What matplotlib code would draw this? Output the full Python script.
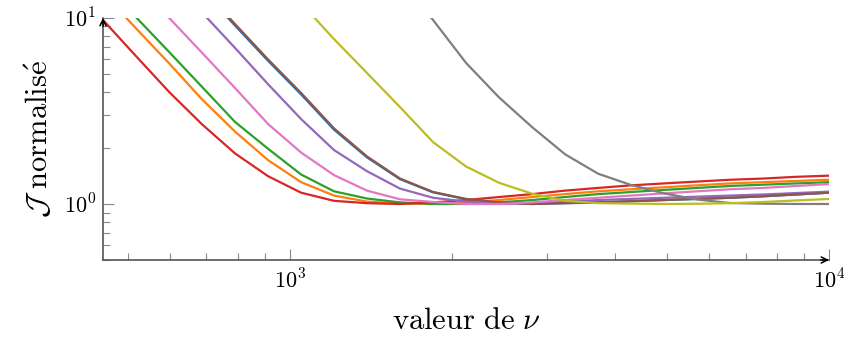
"""Normalised J versus nu, log-log, one curve per setting."""

import numpy as np
import matplotlib
matplotlib.use('Agg')
import matplotlib.pyplot as plt
from matplotlib import ticker

plt.rcParams['mathtext.fontset'] = 'cm'
plt.rcParams['font.family'] = ['DejaVu Serif']

# sample points of nu
nu = [450, 518, 597, 687, 791, 911, 1049, 1207, 1390, 1600, 1843, 2122,
      2443, 2813, 3239, 3729, 4294, 4944, 5693, 6555, 7547, 8690, 10000]

# normalised J, one list per curve (values above 10 are clipped in the plot)
j_blue = [58, 37, 22.5, 14.2, 9.1, 5.88, 3.88, 2.51, 1.78, 1.36, 1.155, 1.06,
          1.02, 1.0, 1.01, 1.02, 1.035, 1.05, 1.065, 1.08, 1.10, 1.125, 1.15]
j_orange = [13.6, 8.8, 5.7, 3.65, 2.45, 1.72, 1.31, 1.11, 1.03, 1.006, 1.0, 1.02,
            1.05, 1.09, 1.13, 1.17, 1.20, 1.23, 1.26, 1.29, 1.31, 1.33, 1.35]
j_green = [15.6, 10.1, 6.56, 4.26, 2.76, 1.98, 1.44, 1.17, 1.07, 1.02, 1.0, 1.0,
           1.02, 1.05, 1.09, 1.13, 1.16, 1.19, 1.22, 1.25, 1.27, 1.29, 1.31]
j_red = [9.75, 6.24, 4.0, 2.68, 1.87, 1.41, 1.15, 1.04, 1.01, 1.0, 1.02, 1.05,
         1.09, 1.13, 1.18, 1.22, 1.26, 1.29, 1.32, 1.35, 1.37, 1.40, 1.42]
j_purple = [42, 26, 17, 10.7, 6.9, 4.4, 2.86, 1.95, 1.5, 1.21, 1.08, 1.03,
            1.0, 1.01, 1.03, 1.05, 1.065, 1.08, 1.095, 1.11, 1.125, 1.145, 1.165]
j_brown = [60, 38, 23, 14.5, 9.27, 5.98, 3.95, 2.55, 1.8, 1.37, 1.16, 1.065,
           1.02, 1.0, 1.01, 1.02, 1.035, 1.05, 1.065, 1.08, 1.10, 1.125, 1.15]
j_pink = [23.7, 15.4, 10.0, 6.5, 4.2, 2.69, 1.89, 1.43, 1.18, 1.06, 1.025, 1.0,
          1.0, 1.02, 1.05, 1.08, 1.11, 1.14, 1.17, 1.20, 1.22, 1.25, 1.28]
j_gray = [1470, 890, 540, 330, 200, 120, 74, 45, 27, 16.5, 9.75, 5.73,
          3.74, 2.59, 1.85, 1.455, 1.265, 1.14, 1.057, 1.012, 1.004, 1.0, 1.0]
j_olive = [170, 110, 70, 45, 29, 18.7, 12.0, 7.7, 5.06, 3.32, 2.15, 1.59,
           1.30, 1.136, 1.04, 1.01, 1.005, 1.0, 1.003, 1.01, 1.025, 1.045, 1.064]

series = [
    (j_blue, '#1f77b4'),
    (j_orange, '#ff7f0e'),
    (j_green, '#2ca02c'),
    (j_red, '#d62728'),
    (j_purple, '#9467bd'),
    (j_brown, '#8c564b'),
    (j_pink, '#e377c2'),
    (j_gray, '#7f7f7f'),
    (j_olive, '#bcbd22'),
]

fig = plt.figure(figsize=(8.45, 3.38), dpi=100)
ax = fig.add_axes([0.1219, 0.2308, 0.8592, 0.716])

for vals, color in series:
    ax.plot(nu, vals, color=color, linewidth=1.6)

ax.set_xscale('log')
ax.set_yscale('log')
ax.set_xlim(450, 10000)
ax.set_ylim(0.5, 10)

# axis lines: left and bottom only, with arrow heads
for side in ('top', 'right'):
    ax.spines[side].set_visible(False)
for side in ('left', 'bottom'):
    ax.spines[side].set_color('#555555')
    ax.spines[side].set_linewidth(1.2)

arrow = dict(arrowstyle='->', color='black', lw=1.1, shrinkA=0, shrinkB=0,
             mutation_scale=11)
ax.annotate('', xy=(1, 0), xycoords='axes fraction', xytext=(-6, 0),
            textcoords='offset points', arrowprops=arrow)
ax.annotate('', xy=(0, 1), xycoords='axes fraction', xytext=(0, -6),
            textcoords='offset points', arrowprops=arrow)

log_fmt = ticker.FuncFormatter(lambda v, p: r'$10^{%d}$' % round(np.log10(v)))
for axis in (ax.xaxis, ax.yaxis):
    axis.set_major_locator(ticker.LogLocator(base=10))
    axis.set_minor_locator(ticker.LogLocator(base=10, subs=np.arange(2, 10)))
    axis.set_major_formatter(log_fmt)
    axis.set_minor_formatter(ticker.NullFormatter())

ax.tick_params(which='both', direction='in', color='#888888', width=0.8,
               labelsize=16)
ax.tick_params(which='major', length=8)
ax.tick_params(which='minor', length=5)
ax.tick_params(axis='x', which='major', pad=7)
ax.tick_params(axis='y', which='major', pad=5)

ax.set_xlabel(r'$\mathrm{valeur\ de}\ \nu$', fontsize=22, labelpad=8)
ax.set_ylabel(r'$\mathcal{J}\ \mathrm{normalis\acute{e}}$', fontsize=22,
              labelpad=6)

fig.savefig('out.png', dpi=100)
